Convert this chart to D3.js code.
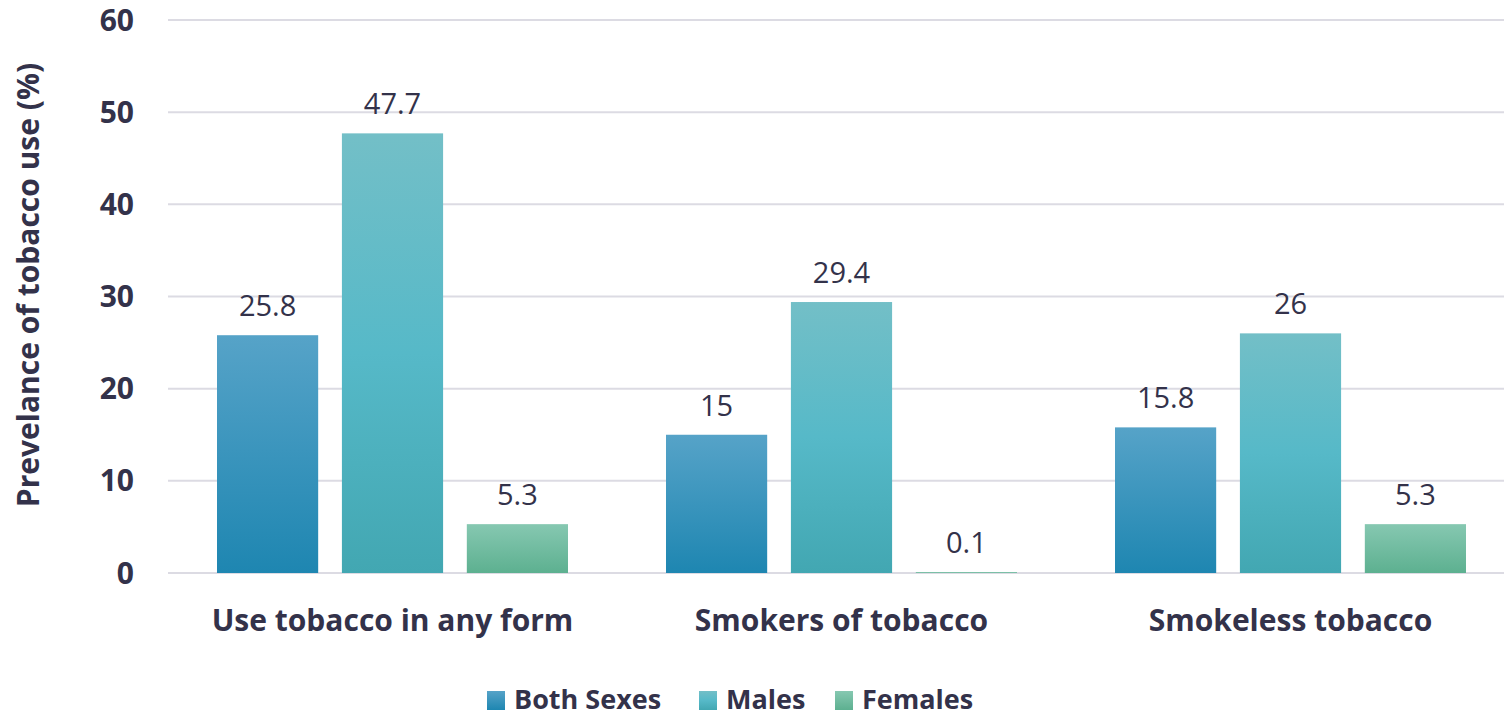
<!DOCTYPE html>
<html>
<head>
<meta charset="utf-8">
<script src="https://cdn.jsdelivr.net/npm/d3@7"></script>
<style>
  body { margin: 0; background: #fff; }
  svg text { font-family: "Open Sans", "Noto Sans", sans-serif; fill: #33324a; }
</style>
</head>
<body>
<div id="chart"></div>
<script>
const categories = ["Use tobacco in any form", "Smokers of tobacco", "Smokeless tobacco"];
const seriesNames = ["Both Sexes", "Males", "Females"];
const bothSexes = [25.8, 15, 15.8];
const males = [47.7, 29.4, 26];
const females = [5.3, 0.1, 5.3];
const yTicks = [0, 10, 20, 30, 40, 50, 60];

const width = 1504;
const height = 717;
const values = [bothSexes, males, females];

const svg = d3.select("#chart").append("svg")
    .attr("width", width)
    .attr("height", height);

// gradients for the three series
const defs = svg.append("defs");
const gradStops = [
  [["0%", "#56a3c8"], ["100%", "#1e86b1"]],
  [["0%", "#73bfc7"], ["50%", "#56b9c8"], ["100%", "#42a7b2"]],
  [["0%", "#86c8b1"], ["100%", "#5db090"]]
];
gradStops.forEach((stops, i) => {
  const g = defs.append("linearGradient")
      .attr("id", "grad" + i)
      .attr("x1", 0).attr("y1", 0).attr("x2", 0).attr("y2", 1);
  stops.forEach(s => g.append("stop").attr("offset", s[0]).attr("stop-color", s[1]));
});

const x0 = d3.scaleBand()
    .domain(categories)
    .range([168, 1515]);

const x1 = d3.scaleBand()
    .domain(seriesNames)
    .range([49, 449 - 49])
    .paddingInner(0.19);

const y = d3.scaleLinear()
    .domain([0, 60])
    .range([573, 20]);

// gridlines
svg.append("g")
  .selectAll("line")
  .data(yTicks)
  .enter().append("line")
  .attr("x1", 168)
  .attr("x2", width)
  .attr("y1", d => y(d))
  .attr("y2", d => y(d))
  .attr("stroke", "#dcdbe3")
  .attr("stroke-width", 2);

// y tick labels
svg.append("g")
  .selectAll("text")
  .data(yTicks)
  .enter().append("text")
  .attr("x", 134)
  .attr("y", d => y(d))
  .attr("dy", "0.35em")
  .attr("text-anchor", "end")
  .style("font-size", "30px")
  .style("font-weight", "bold")
  .text(d => d);

// axis title
svg.append("text")
  .attr("transform", `translate(39, 285) rotate(-90)`)
  .attr("text-anchor", "middle")
  .style("font-size", "30px")
  .style("font-weight", "bold")
  .text("Prevelance of tobacco use (%)");

// bars
const groups = svg.append("g")
  .selectAll("g")
  .data(categories)
  .enter().append("g")
  .attr("transform", d => `translate(${x0(d)},0)`);

groups.selectAll("rect")
  .data((c, ci) => seriesNames.map((s, si) => ({ s, si, v: values[si][ci] })))
  .enter().append("rect")
  .attr("x", d => x1(d.s))
  .attr("y", d => y(d.v))
  .attr("width", x1.bandwidth())
  .attr("height", d => y(0) - y(d.v))
  .attr("fill", d => `url(#grad${d.si})`);

groups.selectAll("text.val")
  .data((c, ci) => seriesNames.map((s, si) => ({ s, si, v: values[si][ci] })))
  .enter().append("text")
  .attr("class", "val")
  .attr("x", d => x1(d.s) + x1.bandwidth() / 2)
  .attr("y", d => y(d.v) - 19)
  .attr("text-anchor", "middle")
  .style("font-size", "29px")
  .text(d => d.v);

// category labels
svg.append("g")
  .selectAll("text")
  .data(categories)
  .enter().append("text")
  .attr("x", d => x0(d) + x0.bandwidth() / 2)
  .attr("y", 631)
  .attr("text-anchor", "middle")
  .style("font-size", "30px")
  .style("font-weight", "bold")
  .text(d => d);

// legend
const legendX = [487, 699, 835];
const legend = svg.append("g");
legend.selectAll("rect")
  .data(seriesNames)
  .enter().append("rect")
  .attr("x", (d, i) => legendX[i])
  .attr("y", 691)
  .attr("width", 18)
  .attr("height", 19)
  .attr("fill", (d, i) => `url(#grad${i})`);

legend.selectAll("text")
  .data(seriesNames)
  .enter().append("text")
  .attr("x", (d, i) => legendX[i] + 27)
  .attr("y", 709)
  .style("font-size", "27px")
  .style("font-weight", "bold")
  .text(d => d);
</script>
</body>
</html>
